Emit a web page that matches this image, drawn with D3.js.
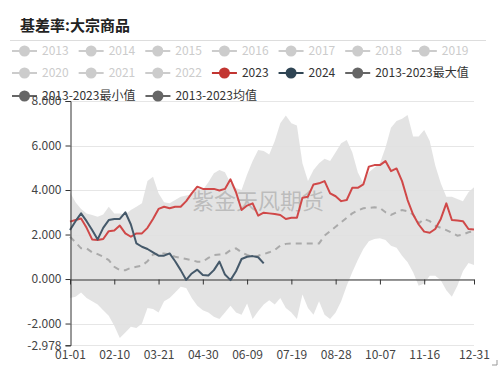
<!DOCTYPE html>
<html><head><meta charset="utf-8">
<script src="https://cdn.jsdelivr.net/npm/d3@7/dist/d3.min.js"></script>
<style>body{margin:0;background:#fff}svg{display:block}</style>
</head><body><svg id="c" width="504" height="369"></svg>
<script>
const days = [0,5,10,15,20,25,30,35,40,45,50,55,60,65,70,75,80,85,90,95,100,105,110,115,120,125,130,135,140,145,150,155,160,165,170,175,180,185,190,195,200,205,210,215,220,225,230,235,240,245,250,255,260,265,270,275,280,285,290,295,300,305,310,315,320,325,330,335,340,345,350,355,360,365];
const xTickDays = [0,40,80,120,160,200,240,280,320,365];
const xTickLabels = ["01-01","02-10","03-21","04-30","06-09","07-19","08-28","10-07","11-16","12-31"];
const yTicks = [8,6,4,2,0,-2,-2.978];
const yTickLabels = ["8.000","6.000","4.000","2.000","0.000","-2.000","-2.978"];

const seriesMax = [3.9,3.45,3.15,2.95,2.88,2.8,2.9,3.25,2.95,2.95,2.9,3.1,3.25,3.4,4.4,4.6,3.85,3.45,3.4,3.55,3.7,3.75,3.8,4.08,4.0,4.35,4.75,4.9,4.8,4.3,4.08,4.0,4.7,5.3,5.8,5.75,5.6,6.2,7.0,7.35,7.0,6.9,5.2,4.4,4.9,5.2,5.4,5.3,5.7,6.1,6.25,5.7,4.8,4.3,4.8,5.0,5.2,5.9,6.8,7.1,7.2,7.37,6.4,6.4,6.7,6.2,5.1,4.3,3.7,3.7,3.6,3.5,3.9,4.12];
const seriesMin = [-0.85,-0.8,-0.6,-0.85,-1.0,-1.15,-1.4,-1.65,-2.1,-2.65,-2.4,-2.15,-2.2,-2.0,-1.3,-1.35,-1.5,-1.0,-0.85,-0.6,-0.35,-0.4,-0.85,-1.2,-1.4,-1.5,-1.7,-1.8,-1.5,-1.2,-1.5,-1.6,-1.1,-1.8,-1.45,-1.15,-0.95,-1.15,-0.85,-1.3,-1.5,-1.8,-0.7,-1.3,-1.6,-1.0,-1.6,-1.8,-1.5,-1.0,-0.3,0.3,0.85,1.35,1.7,1.8,1.83,1.75,1.5,1.4,1.05,0.75,0.3,-0.3,-0.2,0.15,0.15,-0.05,-0.5,-0.8,-0.3,0.35,0.72,0.63];
const seriesMean = [1.9,1.65,1.38,1.38,1.2,1.12,1.0,0.85,0.55,0.4,0.4,0.5,0.55,0.6,0.8,1.1,1.15,1.15,1.1,1.0,0.95,0.9,0.85,0.78,0.78,0.95,1.08,1.1,1.12,1.3,1.38,1.2,1.08,1.0,1.05,1.12,1.2,1.3,1.5,1.58,1.6,1.6,1.6,1.6,1.6,1.6,1.95,2.15,2.35,2.55,2.75,2.95,3.08,3.18,3.2,3.22,3.2,3.0,2.88,3.0,3.1,3.05,2.9,2.5,2.7,2.6,2.4,2.3,2.2,2.08,1.95,2.0,2.1,2.15];
const series2023 = [2.58,2.65,2.72,2.3,1.78,1.75,1.8,2.15,2.18,2.4,2.05,1.9,2.05,2.05,2.3,2.7,3.15,3.25,3.18,3.25,3.25,3.5,3.85,4.15,4.05,4.05,4.05,3.98,4.05,4.48,3.9,3.1,3.3,3.4,2.85,2.98,2.95,2.92,2.88,2.7,2.75,2.75,3.65,3.7,4.25,4.3,4.4,3.85,3.72,3.5,3.55,4.1,4.1,4.25,5.05,5.12,5.12,5.3,4.85,4.97,4.4,3.55,2.9,2.45,2.13,2.08,2.25,2.7,3.4,2.65,2.63,2.6,2.25,2.23];
const series2024 = [2.2,2.6,2.95,2.6,2.2,1.78,2.3,2.65,2.7,2.7,3.0,2.45,1.6,1.45,1.35,1.2,1.05,1.05,1.15,0.8,0.4,-0.04,0.25,0.42,0.18,0.16,0.4,0.78,0.2,-0.05,0.35,0.9,1.0,1.03,0.98,0.7];

const legendNames = ["2013","2014","2015","2016","2017","2018","2019","2020","2021","2022","2023","2024","2013-2023最大值","2013-2023最小值","2013-2023均值"];
const legendActive = [false,false,false,false,false,false,false,false,false,false,true,true,true,true,true];
const legendColors = ["#ccc","#ccc","#ccc","#ccc","#ccc","#ccc","#ccc","#ccc","#ccc","#ccc","#c23531","#2f4554","#666","#666","#666"];

const FONT = "'Noto Sans CJK SC','Noto Sans',sans-serif";
const svg = d3.select("#c");

const x = d3.scaleLinear().domain([0,365]).range([70,474]);
const y = d3.scaleLinear().domain([-2.978,8]).range([345.3,101]);

// title
svg.append("text").attr("x",20).attr("y",31).text("基差率:大宗商品")
  .attr("font-family","'Noto Sans CJK SC',serif").attr("font-weight","bold")
  .attr("font-size",15).attr("fill","#222");
svg.append("line").attr("x1",10).attr("x2",486).attr("y1",40.5).attr("y2",40.5)
  .attr("stroke","#ddd").attr("stroke-width",1);

// grid
svg.append("g").selectAll("line").data(yTicks).join("line")
  .attr("x1",70).attr("x2",474)
  .attr("y1",d=>Math.round(y(d))+0.5).attr("y2",d=>Math.round(y(d))+0.5)
  .attr("stroke","#e6e6e6").attr("stroke-width",1);

// band
const band = days.map((d,i)=>({d, lo:seriesMin[i], hi:seriesMax[i]}));
svg.append("path").datum(band)
  .attr("d", d3.area().x(p=>x(p.d)).y0(p=>y(p.lo)).y1(p=>y(p.hi)))
  .attr("fill","#e0e0e0").attr("opacity",0.9);

// watermark
svg.append("text").attr("x",258).attr("y",209).attr("text-anchor","middle")
  .text("紫金天风期货").attr("font-family",FONT).attr("font-size",22)
  .attr("fill","#9a9a9a").attr("fill-opacity",0.55);

// axes
const yAxis = d3.axisLeft(y).tickValues(yTicks).tickFormat((d,i)=>yTickLabels[i]).tickSize(5).tickPadding(4);
const gy = svg.append("g").attr("transform","translate(70.5,0)").call(yAxis);
gy.select(".domain").attr("stroke","#333");
gy.selectAll(".tick line").attr("stroke","#333");
gy.selectAll("text").attr("font-family",FONT).attr("font-size",12).attr("fill","#444");

const xAxis = d3.axisBottom(x).tickValues(xTickDays).tickFormat((d,i)=>xTickLabels[i]).tickSize(5).tickSizeOuter(0);
const gx = svg.append("g").attr("transform",`translate(0,${Math.round(y(0))+0.5})`).call(xAxis);
gx.select(".domain").attr("stroke","#333");
gx.selectAll(".tick line").attr("stroke","#333");
gx.selectAll("text").attr("font-family",FONT).attr("font-size",12).attr("fill","#444")
  .attr("y", 350 - Math.round(y(0)));

// lines
const mk = arr => d3.line().defined(p=>p.v!=null).x(p=>x(p.d)).y(p=>y(p.v))(days.map((d,i)=>({d, v: i<arr.length?arr[i]:null})));
svg.append("path").attr("d",mk(seriesMean)).attr("fill","none").attr("stroke","#aaa")
  .attr("stroke-width",2).attr("stroke-dasharray","6,5");
svg.append("path").attr("d",mk(series2023)).attr("fill","none").attr("stroke","#d04848")
  .attr("stroke-width",2).attr("stroke-linejoin","round");
svg.append("path").attr("d",mk(series2024)).attr("fill","none").attr("stroke","#45596a")
  .attr("stroke-width",2).attr("stroke-linejoin","round");

// legend (flow layout)
const lg = svg.append("g");
let lx = 12, row = 0;
const rowY = [51,73,96];
legendNames.forEach((name,i)=>{
  const g = lg.append("g");
  const c = legendColors[i];
  const t = g.append("text").attr("x",30).attr("dy","0.35em").text(name)
    .attr("font-family",FONT).attr("font-size",12)
    .attr("fill", legendActive[i] ? "#333" : "#ccc");
  const w = 30 + t.node().getComputedTextLength();
  if (lx + w > 494) { row++; lx = 12; }
  g.attr("transform",`translate(${lx},${rowY[row]})`);
  g.insert("line","text").attr("x1",0).attr("x2",25).attr("y1",0).attr("y2",0).attr("stroke",c).attr("stroke-width",2);
  g.insert("circle","text").attr("cx",12.5).attr("cy",0).attr("r",5.5).attr("fill",c);
  lx += w + 10;
});
// bring 8.000 label above legend like the original
gy.raise();

// corner mark
svg.append("path").attr("d","M492,365 L497,365 L497,360").attr("fill","none").attr("stroke","#999").attr("stroke-width",1);
</script>
</body></html>
